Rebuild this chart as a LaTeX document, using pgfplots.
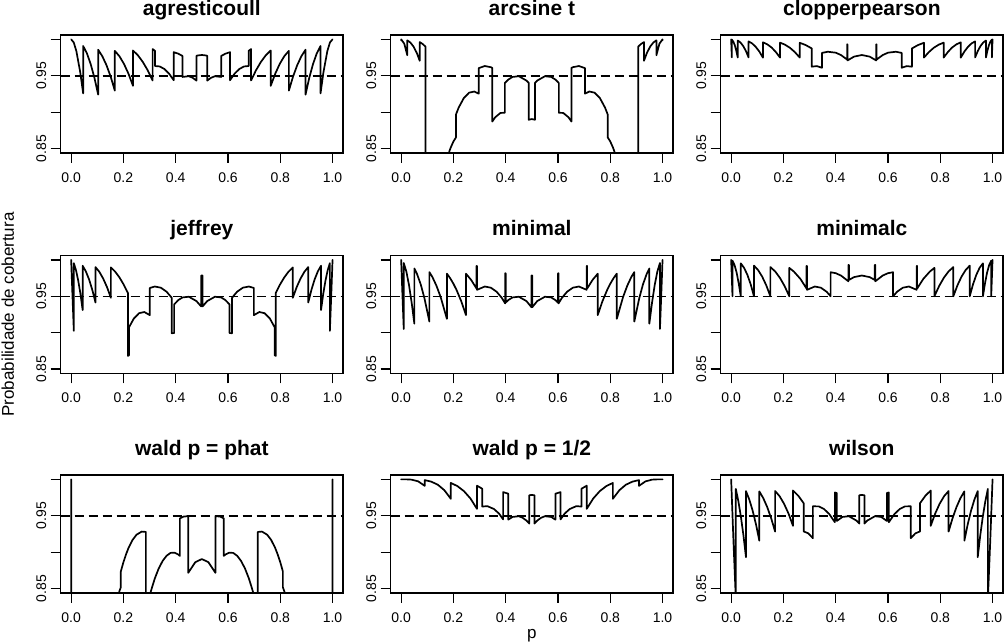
\documentclass[border=0pt]{standalone}
\usepackage{fontspec}
\setmainfont{Liberation Sans}
\setsansfont{Liberation Sans}
\usepackage{pgfplots}
\pgfplotsset{compat=1.18}
\newcommand\tickfont{\fontsize{14}{16}\selectfont}
\newcommand\titlefont{\fontsize{21}{25}\selectfont\bfseries}
\newcommand\labfont{\fontsize{17}{20}\selectfont}
\pgfplotsset{
 panel/.style={
  anchor=south west, width=282.3pt, height=118pt, scale only axis,
  xmin=-0.04, xmax=1.04, ymin=0.844, ymax=1.006,
  xtick={0,0.2,0.4,0.6,0.8,1}, xticklabels={0.0,0.2,0.4,0.6,0.8,1.0},
  ytick={0.85,0.9,0.95,1}, yticklabels={0.85,,0.95,},
  xtick pos=bottom, ytick pos=left,
  tick align=outside, major tick length=10pt,
  every tick/.style={black, line width=1.3pt},
  axis line style={line width=1.4pt},
  ticklabel style={font=\tickfont},
  xticklabel style={anchor=base, yshift=-19.4pt},
  yticklabel style={xshift=-4.5pt, rotate=90, anchor=base},
  title style={font=\titlefont, at={(0.5,1)}, anchor=base, inner sep=0pt, yshift=13.8pt},
  /pgf/number format/assume math mode=true,
 },
 curve/.style={black, line width=1.7pt, line join=round, line cap=round, no markers},
 ref/.style={black, line width=1.5pt, dash pattern=on 9pt off 5pt, no markers},
}
\begin{document}
\begin{tikzpicture}
\path[use as bounding box] (0,0) rectangle (1005pt,644pt);

% ---------------- agresticoull
\begin{axis}[panel, at={(60.7pt,491pt)}, title={agresticoull}]
\addplot[ref] coordinates {(-0.04,0.95) (1.04,0.95)};
\addplot[curve] table {
0 1.0
0.01 0.9957
0.02 0.9838
0.035 0.9543
0.0459 0.9258
0.0459 0.9909
0.0603 0.9808
0.0746 0.9662
0.0890 0.9473
0.1033 0.9241
0.1033 0.9858
0.1193 0.9768
0.1352 0.9645
0.1512 0.9488
0.1671 0.9296
0.1671 0.9842
0.1845 0.9769
0.2018 0.9665
0.2192 0.9529
0.2366 0.9362
0.2366 0.9847
0.2554 0.9781
0.2741 0.9690
0.2929 0.9575
0.3116 0.9436
0.3116 0.9867
0.3209 0.9842
0.3209 0.9634
0.3388 0.9628
0.3566 0.9593
0.3745 0.9530
0.3923 0.9439
0.3923 0.9824
0.41 0.9803
0.426 0.9772
0.426 0.9484
0.45 0.9494
0.465 0.9472
0.4794 0.9434
0.4794 0.9775
0.49 0.9782
0.5 0.9785
0.51 0.9782
0.5206 0.9775
0.5206 0.9434
0.535 0.9472
0.55 0.9494
0.574 0.9484
0.574 0.9772
0.59 0.9803
0.6077 0.9824
0.6077 0.9439
0.6255 0.9530
0.6434 0.9593
0.6612 0.9628
0.6791 0.9634
0.6791 0.9842
0.6884 0.9867
0.6884 0.9436
0.7071 0.9575
0.7259 0.9690
0.7446 0.9781
0.7634 0.9847
0.7634 0.9362
0.7808 0.9529
0.7982 0.9665
0.8155 0.9769
0.8329 0.9842
0.8329 0.9296
0.8488 0.9488
0.8648 0.9645
0.8807 0.9768
0.8967 0.9858
0.8967 0.9241
0.9110 0.9473
0.9254 0.9662
0.9397 0.9808
0.9541 0.9909
0.9541 0.9258
0.965 0.9543
0.98 0.9838
0.99 0.9957
1 1.0
};
\end{axis}

% ---------------- arcsine t
\begin{axis}[panel, at={(390.7pt,491pt)}, title={arcsine t}]
\addplot[ref] coordinates {(-0.04,0.95) (1.04,0.95)};
\addplot[curve] table {
0 1.0
0.00014 0.9986
0.00014 1.0
0.012 0.9940
0.023452 0.9782
0.023452 0.9987
0.035 0.9957
0.047 0.9903
0.06 0.9812
0.071012 0.9706
0.071012 0.9963
0.082 0.9937
0.093 0.9901
0.093 0.6133
0.134 0.7388
0.134 0.759
0.15 0.7933
0.17 0.8280
0.18 0.8412
0.185 0.8469
0.19 0.8518
0.2 0.8598
0.20958 0.8653
0.20958 0.8967
0.22 0.9063
0.24 0.9196
0.26 0.9268
0.28 0.9284
0.2969 0.9254
0.2969 0.9605
0.32 0.9634
0.343 0.9618
0.34862 0.9608
0.34862 0.8872
0.36 0.8931
0.38 0.8990
0.3967 0.8992
0.3967 0.9400
0.41 0.9448
0.426 0.9484
0.45 0.9494
0.4794 0.9434
0.48807 0.9402
0.48807 0.8896
0.5 0.8906
0.51193 0.8896
0.51193 0.9402
0.5206 0.9434
0.55 0.9494
0.574 0.9484
0.59 0.9448
0.6033 0.9400
0.6033 0.8992
0.62 0.8990
0.64 0.8931
0.65138 0.8872
0.65138 0.9608
0.657 0.9618
0.68 0.9634
0.7031 0.9605
0.7031 0.9254
0.72 0.9284
0.74 0.9268
0.76 0.9196
0.78 0.9063
0.79042 0.8967
0.79042 0.8653
0.8 0.8598
0.81 0.8518
0.815 0.8469
0.82 0.8412
0.83 0.8280
0.85 0.7933
0.866 0.759
0.866 0.7388
0.907 0.6133
0.907 0.9901
0.918 0.9937
0.928988 0.9963
0.928988 0.9706
0.94 0.9812
0.953 0.9903
0.965 0.9957
0.976548 0.9987
0.976548 0.9782
0.988 0.9940
0.99986 1.0
0.99986 0.9986
1 1.0
};
\end{axis}

% ---------------- clopperpearson
\begin{axis}[panel, at={(720.7pt,491pt)}, title={clopperpearson}]
\addplot[ref] coordinates {(-0.04,0.95) (1.04,0.95)};
\addplot[curve] table {
0 1.0
0.0025 0.9753
0.0025 0.9997
0.0082 0.9969
0.014 0.9918
0.0195 0.9846
0.0252 0.9751
0.0252 0.9984
0.0356 0.9957
0.046 0.9909
0.0563 0.9841
0.0667 0.9752
0.0667 0.9972
0.0804 0.9944
0.094 0.9897
0.1079 0.9832
0.1216 0.9749
0.1216 0.9960
0.1380 0.9932
0.155 0.9887
0.1707 0.9827
0.187 0.9750
0.187 0.9955
0.2059 0.9927
0.225 0.9884
0.2437 0.9825
0.2624 0.9750
0.2624 0.9953
0.285 0.9922
0.3085 0.9875
0.3085 0.9625
0.328 0.9633
0.3475 0.9610
0.3475 0.9814
0.37 0.9830
0.40 0.9817
0.42 0.9785
0.4439 0.9722
0.4439 0.9932
0.445 0.9931
0.445 0.9710
0.47 0.9763
0.5 0.9785
0.53 0.9763
0.555 0.9710
0.555 0.9931
0.5561 0.9932
0.5561 0.9722
0.58 0.9785
0.60 0.9817
0.63 0.9830
0.6525 0.9814
0.6525 0.9610
0.672 0.9633
0.6915 0.9625
0.6915 0.9875
0.715 0.9922
0.7376 0.9953
0.7376 0.9750
0.7563 0.9825
0.775 0.9884
0.7941 0.9927
0.813 0.9955
0.813 0.9750
0.8293 0.9827
0.845 0.9887
0.862 0.9932
0.8784 0.9960
0.8784 0.9749
0.8921 0.9832
0.906 0.9897
0.9196 0.9944
0.9333 0.9972
0.9333 0.9752
0.9437 0.9841
0.954 0.9909
0.9644 0.9957
0.9748 0.9984
0.9748 0.9751
0.9805 0.9846
0.986 0.9918
0.9918 0.9969
0.9975 0.9997
0.9975 0.9753
1 1.0
};
\end{axis}

% ---------------- jeffrey
\begin{axis}[panel, at={(60.7pt,270.5pt)}, title={jeffrey}]
\addplot[ref] coordinates {(-0.04,0.95) (1.04,0.95)};
\addplot[curve] table {
0 1.0
0.0051 0.9501
0.0102 0.9025
0.0102 0.9955
0.0187 0.9856
0.027 0.9716
0.0355 0.9535
0.044 0.9311
0.044 0.9919
0.05625 0.9842
0.0685 0.9732
0.08075 0.9589
0.093 0.9414
0.093 0.9901
0.10775 0.9836
0.1225 0.9743
0.13725 0.9625
0.152 0.9479
0.152 0.9896
0.1683 0.9838
0.1845 0.9760
0.2008 0.9662
0.2172 0.9545
0.2172 0.8681
0.2215 0.8691
0.2215 0.9075
0.24 0.9196
0.26 0.9268
0.28 0.9284
0.301 0.9241
0.301 0.9614
0.32 0.9634
0.343 0.9618
0.365 0.9563
0.3846 0.9480
0.3846 0.8993
0.394 0.8995
0.394 0.9388
0.41 0.9448
0.426 0.9484
0.45 0.9494
0.4794 0.9434
0.4972 0.9361
0.4972 0.9785
0.5 0.9785
0.5028 0.9785
0.5028 0.9361
0.5206 0.9434
0.55 0.9494
0.574 0.9484
0.59 0.9448
0.606 0.9388
0.606 0.8995
0.6154 0.8993
0.6154 0.9480
0.635 0.9563
0.657 0.9618
0.68 0.9634
0.699 0.9614
0.699 0.9241
0.72 0.9284
0.74 0.9268
0.76 0.9196
0.7785 0.9075
0.7785 0.8691
0.7828 0.8681
0.7828 0.9545
0.7992 0.9662
0.8155 0.9760
0.8317 0.9838
0.848 0.9896
0.848 0.9479
0.86275 0.9625
0.8775 0.9743
0.89225 0.9836
0.907 0.9901
0.907 0.9414
0.91925 0.9589
0.9315 0.9732
0.94375 0.9842
0.956 0.9919
0.956 0.9311
0.9645 0.9535
0.973 0.9716
0.9813 0.9856
0.9898 0.9955
0.9898 0.9025
0.9949 0.9501
1 1.0
};
\end{axis}

% ---------------- minimal
\begin{axis}[panel, at={(390.7pt,270.5pt)}, title={minimal}]
\addplot[ref] coordinates {(-0.04,0.95) (1.04,0.95)};
\addplot[curve] table {
0 1.0
0.005 0.9511
0.0099 0.9052
0.0099 0.9957
0.02 0.9838
0.0302 0.9650
0.0404 0.9407
0.0505 0.9124
0.0505 0.9882
0.0603 0.9810
0.075 0.9662
0.089 0.9475
0.108 0.9153
0.108 0.9832
0.1193 0.9766
0.135 0.9645
0.1512 0.9488
0.175 0.9190
0.175 0.9811
0.1875 0.9748
0.2 0.9672
0.2115 0.9590
0.23 0.9431
0.248 0.9242
0.248 0.9810
0.268 0.9723
0.2885 0.9606
0.2885 0.9916
0.2905 0.9913
0.2905 0.9589
0.32 0.9634
0.343 0.9618
0.365 0.9563
0.3846 0.9480
0.398 0.9402
0.398 0.9816
0.40 0.9814
0.40 0.9414
0.41 0.9448
0.426 0.9484
0.45 0.9494
0.4794 0.9434
0.4985 0.9350
0.4985 0.9785
0.5 0.9785
0.5015 0.9785
0.5015 0.9350
0.5206 0.9434
0.55 0.9494
0.574 0.9484
0.59 0.9448
0.60 0.9414
0.60 0.9814
0.602 0.9816
0.602 0.9402
0.6154 0.9480
0.635 0.9563
0.657 0.9618
0.68 0.9634
0.7095 0.9589
0.7095 0.9913
0.7115 0.9916
0.7115 0.9606
0.732 0.9723
0.752 0.9810
0.752 0.9242
0.77 0.9431
0.7885 0.9590
0.8 0.9672
0.8125 0.9748
0.825 0.9811
0.825 0.9190
0.8488 0.9488
0.865 0.9645
0.8807 0.9766
0.892 0.9832
0.892 0.9153
0.911 0.9475
0.925 0.9662
0.9397 0.9810
0.9495 0.9882
0.9495 0.9124
0.9596 0.9407
0.9698 0.9650
0.98 0.9838
0.9901 0.9957
0.9901 0.9052
0.995 0.9511
1 1.0
};
\end{axis}

% ---------------- minimalc
\begin{axis}[panel, at={(720.7pt,270.5pt)}, title={minimalc}]
\addplot[ref] coordinates {(-0.04,0.95) (1.04,0.95)};
\addplot[curve] table {
0 1.0
0.005116 0.9500
0.005116 0.9989
0.013 0.9928
0.021 0.9824
0.029 0.9675
0.0368 0.9500
0.0368 0.9952
0.04943 0.9891
0.062 0.9795
0.07465 0.9665
0.0873 0.9500
0.0873 0.9921
0.10298 0.9860
0.11865 0.9770
0.13433 0.9650
0.15 0.9500
0.15 0.9901
0.1681 0.9842
0.1862 0.9755
0.2043 0.9641
0.2224 0.9500
0.2224 0.9890
0.24 0.9839
0.265 0.9738
0.2885 0.9606
0.2885 0.9916
0.2905 0.9913
0.2905 0.9589
0.32 0.9634
0.343 0.9618
0.365 0.9563
0.3805 0.9500
0.3805 0.9830
0.40 0.9817
0.42 0.9785
0.4485 0.9706
0.4485 0.9930
0.4505 0.9929
0.4505 0.9724
0.47 0.9763
0.5 0.9785
0.53 0.9763
0.5495 0.9724
0.5495 0.9929
0.5515 0.9930
0.5515 0.9706
0.58 0.9785
0.60 0.9817
0.6195 0.9830
0.6195 0.9500
0.635 0.9563
0.657 0.9618
0.68 0.9634
0.7095 0.9589
0.7095 0.9913
0.7115 0.9916
0.7115 0.9606
0.735 0.9738
0.76 0.9839
0.7776 0.9890
0.7776 0.9500
0.7957 0.9641
0.8138 0.9755
0.8319 0.9842
0.85 0.9901
0.85 0.9500
0.86567 0.9650
0.88135 0.9770
0.89702 0.9860
0.9127 0.9921
0.9127 0.9500
0.92535 0.9665
0.938 0.9795
0.95057 0.9891
0.9632 0.9952
0.9632 0.9500
0.971 0.9675
0.979 0.9824
0.987 0.9928
0.994884 0.9989
0.994884 0.9500
1 1.0
};
\end{axis}

% ---------------- wald p = phat
\begin{axis}[panel, at={(60.7pt,51pt)}, title={wald p = phat}]
\addplot[ref] coordinates {(-0.04,0.95) (1.04,0.95)};
\addplot[curve] table {
0 1.0
0.001 0.30
0.15 0.7933
0.17 0.8280
0.18 0.8412
0.185 0.8469
0.1901 0.8519
0.1901 0.8737
0.20 0.8863
0.21 0.8971
0.22 0.9063
0.235 0.9169
0.25 0.9240
0.27 0.9283
0.28594 0.9278
0.28594 0.7898
0.29636 0.8002
0.29636 0.8351
0.30 0.8401
0.31 0.8524
0.32 0.8639
0.335 0.8777
0.35 0.8880
0.365 0.8951
0.38 0.8990
0.395 0.8994
0.41 0.8968
0.41597 0.8949
0.41597 0.9464
0.43 0.9489
0.44792 0.9495
0.44792 0.8717
0.475 0.8863
0.5 0.8906
0.525 0.8863
0.55208 0.8717
0.55208 0.9495
0.57 0.9489
0.58403 0.9464
0.58403 0.8949
0.59 0.8968
0.605 0.8994
0.62 0.8990
0.635 0.8951
0.65 0.8880
0.665 0.8777
0.68 0.8639
0.69 0.8524
0.70 0.8401
0.70364 0.8351
0.70364 0.8002
0.71406 0.7898
0.71406 0.9278
0.73 0.9283
0.75 0.9240
0.765 0.9169
0.78 0.9063
0.79 0.8971
0.80 0.8863
0.8099 0.8737
0.8099 0.8519
0.815 0.8469
0.82 0.8412
0.83 0.8280
0.85 0.7933
0.999 0.30
1 1.0
};
\end{axis}

% ---------------- wald p = 1/2
\begin{axis}[panel, at={(390.7pt,51pt)}, title={wald p = 1/2}]
\addplot[ref] coordinates {(-0.04,0.95) (1.04,0.95)};
\addplot[curve] table {
0 1.0
0.02 1.0
0.04 0.9996
0.065 0.9973
0.0901 0.9911
0.0901 0.9990
0.115 0.9969
0.14 0.9927
0.165 0.9852
0.1901 0.9733
0.1901 0.9951
0.215 0.9908
0.24 0.9839
0.265 0.9738
0.2901 0.9595
0.2901 0.9913
0.3099 0.9872
0.3099 0.9627
0.33 0.9632
0.355 0.9593
0.3745 0.9530
0.3901 0.9451
0.3901 0.9825
0.4099 0.9803
0.4099 0.9447
0.426 0.9484
0.45 0.9494
0.465 0.9472
0.4794 0.9434
0.4901 0.9393
0.4901 0.9783
0.5 0.9785
0.5099 0.9783
0.5099 0.9393
0.5206 0.9434
0.535 0.9472
0.55 0.9494
0.574 0.9484
0.5901 0.9447
0.5901 0.9803
0.6099 0.9825
0.6099 0.9451
0.6255 0.9530
0.645 0.9593
0.67 0.9632
0.6901 0.9627
0.6901 0.9872
0.7099 0.9913
0.7099 0.9595
0.735 0.9738
0.76 0.9839
0.785 0.9908
0.8099 0.9951
0.8099 0.9733
0.835 0.9852
0.86 0.9927
0.885 0.9969
0.9099 0.9990
0.9099 0.9911
0.935 0.9973
0.96 0.9996
0.98 1.0
1 1.0
};
\end{axis}

% ---------------- wilson
\begin{axis}[panel, at={(720.7pt,51pt)}, title={wilson}]
\addplot[ref] coordinates {(-0.04,0.95) (1.04,0.95)};
\addplot[curve] table {
0 1.0
0.009 0.9136
0.01787 0.8350
0.01787 0.9869
0.02757 0.9700
0.03727 0.9488
0.04698 0.9232
0.05668 0.8932
0.05668 0.9839
0.06946 0.9722
0.08224 0.9570
0.09502 0.9382
0.10779 0.9158
0.10779 0.9835
0.12289 0.9742
0.13799 0.9619
0.15308 0.9466
0.16818 0.9283
0.16818 0.9840
0.18528 0.9769
0.20238 0.9665
0.21949 0.9530
0.23659 0.9362
0.23659 0.9847
0.25707 0.9774
0.27754 0.9672
0.27754 0.9285
0.29511 0.9259
0.31268 0.9192
0.31268 0.9630
0.335 0.9629
0.355 0.9593
0.375 0.9525
0.39677 0.9412
0.39677 0.9820
0.40415 0.9812
0.40415 0.9429
0.426 0.9484
0.45 0.9494
0.4794 0.9434
0.49016 0.9393
0.49016 0.9783
0.5 0.9785
0.50984 0.9783
0.50984 0.9393
0.5206 0.9434
0.55 0.9494
0.574 0.9484
0.59585 0.9429
0.59585 0.9812
0.60323 0.9820
0.60323 0.9412
0.625 0.9525
0.645 0.9593
0.665 0.9629
0.68732 0.9630
0.68732 0.9192
0.70489 0.9259
0.72246 0.9285
0.72246 0.9672
0.74293 0.9774
0.76341 0.9847
0.76341 0.9362
0.78051 0.9530
0.79762 0.9665
0.81472 0.9769
0.83182 0.9840
0.83182 0.9283
0.84692 0.9466
0.86201 0.9619
0.87711 0.9742
0.89221 0.9835
0.89221 0.9158
0.90498 0.9382
0.91776 0.9570
0.93054 0.9722
0.94332 0.9839
0.94332 0.8932
0.95302 0.9232
0.96273 0.9488
0.97243 0.9700
0.98213 0.9869
0.98213 0.8350
0.991 0.9136
1 1.0
};
\end{axis}

\node[rotate=90, font=\labfont, anchor=center] at (7.8pt,329.5pt) {Probabilidade de cobertura};
\node[font=\labfont, anchor=base] at (531.8pt,5.9pt) {p};
\end{tikzpicture}
\end{document}
